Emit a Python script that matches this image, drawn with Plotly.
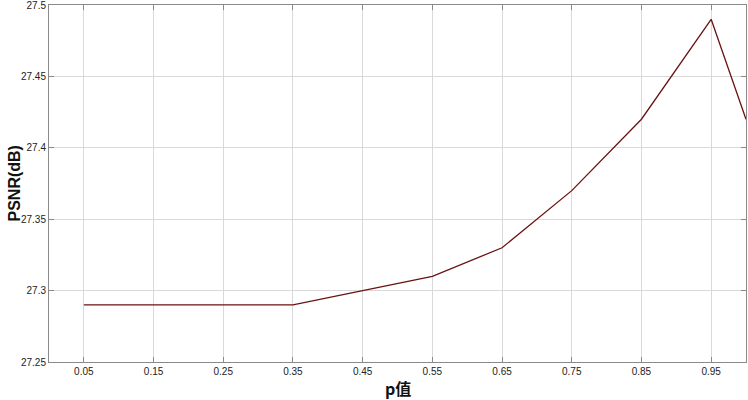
import plotly.graph_objects as go

# ── Data ──────────────────────────────────────────────────────────────────────
p_values = [0.05, 0.15, 0.25, 0.35, 0.45, 0.55, 0.65, 0.75, 0.85, 0.95, 1.0]
psnr_db = [27.29, 27.29, 27.29, 27.29, 27.30, 27.31, 27.33, 27.37, 27.42, 27.49, 27.42]
x_ticks = [0.05, 0.15, 0.25, 0.35, 0.45, 0.55, 0.65, 0.75, 0.85, 0.95]
y_ticks = [27.25, 27.3, 27.35, 27.4, 27.45, 27.5]

FONT = "Liberation Sans, Arial, sans-serif"
AXIS = "#8a8a8a"
GRID = "#d9d9d9"

fig = go.Figure()
fig.add_trace(go.Scatter(
    x=p_values, y=psnr_db, mode="lines",
    line=dict(color="#6a1212", width=1.3),
    showlegend=False,
))

axis_common = dict(
    showline=True, linecolor=AXIS, linewidth=1, mirror="ticks",
    ticks="inside", ticklen=5, tickcolor=AXIS,
    showgrid=True, gridcolor=GRID, gridwidth=1,
    zeroline=False, automargin=False, ticklabeloverflow="allow",
    tickfont=dict(family=FONT, size=10, color="#222"),
)

fig.update_xaxes(
    **axis_common,
    range=[0, 1.0], tickvals=x_ticks,
    ticktext=[f"{v:.2f}" for v in x_ticks],
)
fig.update_yaxes(
    **axis_common,
    range=[27.25, 27.5], tickvals=y_ticks,
    ticktext=["27.25", "27.3", "27.35", "27.4", "27.45", "27.5"],
)

# axis titles as annotations so they stay where the reference puts them
fig.add_annotation(
    text="<b>p值</b>", xref="paper", yref="paper", x=0.5, y=0,
    yshift=-12, yanchor="top", showarrow=False,
    font=dict(family="Noto Sans CJK SC, " + FONT, size=16, color="#111"),
)
fig.add_annotation(
    text="<b>PSNR(dB)</b>", xref="paper", yref="paper", x=0, y=0.5,
    xshift=-35, xanchor="center", textangle=-90, showarrow=False,
    font=dict(family=FONT, size=16, color="#111"),
)

fig.update_layout(
    width=748, height=400,
    paper_bgcolor="white", plot_bgcolor="white",
    margin=dict(l=49, r=2, t=5, b=38),
    font=dict(family=FONT),
)

# page body has an 8px default margin; drop it so the figure fills the window
fig.write_html(
    "out.html",
    config={"displayModeBar": False},
    post_script="document.body.style.margin='0';",
)
